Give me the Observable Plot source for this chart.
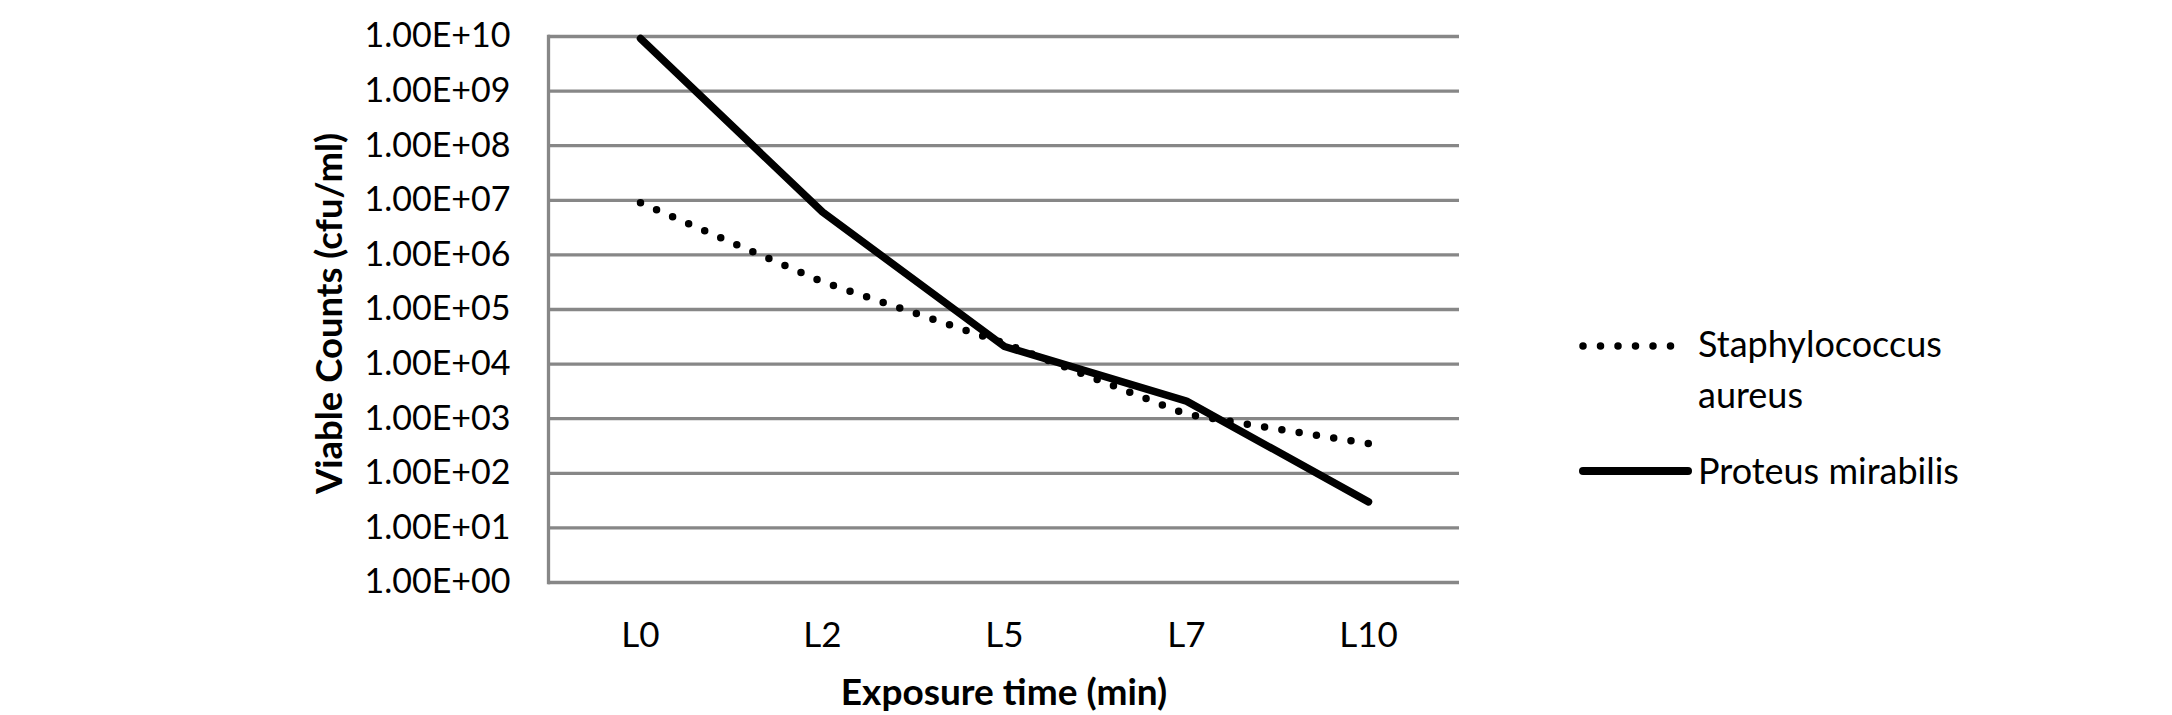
<!DOCTYPE html>
<html><head><meta charset="utf-8">
<script src="https://cdn.jsdelivr.net/npm/d3@7"></script>
<script src="https://cdn.jsdelivr.net/npm/@observablehq/plot@0.6"></script>
<style>
html,body{margin:0;padding:0;background:#fff;}
#wrap{position:relative;width:2172px;height:715px;overflow:hidden;background:#fff;}
#legend{position:absolute;left:0;top:0;pointer-events:none;}
</style></head><body><div id="wrap"></div>
<script>
const categories = ["L0", "L2", "L5", "L7", "L10"];
const staphValues = [9.0e6, 3.2e5, 2.4e4, 1.2e3, 3.5e2];
const proteusValues = [9.2e9, 6.1e6, 2.1e4, 2.1e3, 3.0e1];
const seriesNames = ["Staphylococcus aureus", "Proteus mirabilis"];
const yTicks = [1e0, 1e1, 1e2, 1e3, 1e4, 1e5, 1e6, 1e7, 1e8, 1e9, 1e10];
const yTitle = "Viable Counts (cfu/ml)";
const xTitle = "Exposure time (min)";

const staphRows = categories.map((c, i) => ({cat: c, series: seriesNames[0], value: staphValues[i]}));
const proteusRows = categories.map((c, i) => ({cat: c, series: seriesNames[1], value: proteusValues[i]}));

const fmt = v => {
  const e = Math.round(Math.log10(v));
  return (v / 10 ** e).toFixed(2) + "E+" + String(e).padStart(2, "0");
};

const FONT = "Lato, 'Open Sans', sans-serif";
const GRID = "#878787";

const chart = Plot.plot({
  width: 2172, height: 715,
  marginLeft: 548, marginRight: 713, marginTop: 36, marginBottom: 133,
  style: {fontFamily: FONT, fontSize: "34px", color: "#000", background: "#fff"},
  x: {type: "point", domain: categories, padding: 0.5},
  y: {type: "log", domain: [1, 1e10]},
  marks: [
    Plot.ruleY(yTicks, {stroke: GRID, strokeWidth: 3.3}),
    Plot.frame({anchor: "left", stroke: GRID, strokeWidth: 3.3}),
    Plot.axisY(yTicks, {tickSize: 0, tickPadding: 38, tickFormat: fmt, label: null, fontSize: 34, fill: "#000"}),
    Plot.axisX({tickSize: 0, tickPadding: 40, label: null, fontSize: 35, fill: "#000"}),
    Plot.line(staphRows, {x: "cat", y: "value", stroke: "#000", strokeWidth: 7.5, strokeDasharray: "0 17.5", strokeLinecap: "round", strokeLinejoin: "round"}),
    Plot.line(proteusRows, {x: "cat", y: "value", stroke: "#000", strokeWidth: 7.5, strokeLinecap: "round", strokeLinejoin: "round"}),
    Plot.text([yTitle], {frameAnchor: "left", dx: -218, dy: 4, rotate: -90, textAnchor: "middle", lineAnchor: "middle", fontWeight: "bold", fontSize: 36.5, fill: "#000"}),
    Plot.text([xTitle], {frameAnchor: "bottom", dy: 111, textAnchor: "middle", lineAnchor: "middle", fontWeight: "bold", fontSize: 37, fill: "#000"})
  ]
});

const wrap = document.getElementById("wrap");
wrap.appendChild(chart);

// Legend (drawn as an overlay in the right margin)
const ns = "http://www.w3.org/2000/svg";
const leg = document.createElementNS(ns, "svg");
leg.setAttribute("id", "legend");
leg.setAttribute("width", 2172);
leg.setAttribute("height", 715);
leg.style.fontFamily = FONT;
leg.style.fontSize = "36px";
const items = [
  {name: seriesNames[0], lines: ["Staphylococcus", "aureus"], dash: "0 17.5", sw: 7.5, y: 346, x2: 1683, base: 357},
  {name: seriesNames[1], lines: ["Proteus mirabilis"], dash: null, sw: 8, y: 471, x2: 1688, base: 484}
];
for (const it of items) {
  const l = document.createElementNS(ns, "line");
  l.setAttribute("x1", 1583); l.setAttribute("x2", it.x2);
  l.setAttribute("y1", it.y); l.setAttribute("y2", it.y);
  l.setAttribute("stroke", "#000");
  l.setAttribute("stroke-width", it.sw);
  l.setAttribute("stroke-linecap", "round");
  if (it.dash) l.setAttribute("stroke-dasharray", it.dash);
  leg.appendChild(l);
  it.lines.forEach((t, k) => {
    const tx = document.createElementNS(ns, "text");
    tx.setAttribute("x", 1698);
    tx.setAttribute("y", it.base + k * 51);
    tx.setAttribute("fill", "#000");
    tx.textContent = t;
    leg.appendChild(tx);
  });
}
wrap.appendChild(leg);
</script></body></html>
